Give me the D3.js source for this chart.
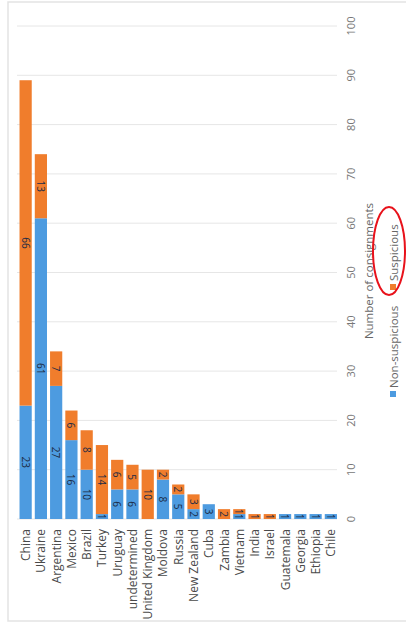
<!DOCTYPE html>
<html>
<head>
<meta charset="utf-8">
<script src="https://cdn.jsdelivr.net/npm/d3@7"></script>
<style>
  body { margin: 0; background: #fff; }
  svg { display: block; font-family: "Open Sans", sans-serif; }
</style>
</head>
<body>
<svg id="chart" width="406" height="625"></svg>
<script>
// chart data
const countries = ["China", "Ukraine", "Argentina", "Mexico", "Brazil", "Turkey", "Uruguay",
    "undetermined", "United Kingdom", "Moldova", "Russia", "New Zealand", "Cuba", "Zambia",
    "Vietnam", "India", "Israel", "Guatemala", "Georgia", "Ethiopia", "Chile"];
const nonSuspicious = [23, 61, 27, 16, 10, 1, 6, 6, 0, 8, 5, 2, 3, 0, 1, 0, 0, 1, 1, 1, 1];
const suspicious = [66, 13, 7, 6, 8, 14, 6, 5, 10, 2, 2, 3, 0, 2, 1, 1, 1, 0, 0, 0, 0];
const seriesNames = ["Non-suspicious", "Suspicious"];
const valueTicks = [0, 10, 20, 30, 40, 50, 60, 70, 80, 90, 100];

const colors = { "Non-suspicious": "#4d9be0", "Suspicious": "#f07d2c" };

const svg = d3.select("#chart");

// light card frame
svg.append("rect")
    .attr("x", 8).attr("y", 2)
    .attr("width", 420).attr("height", 619)
    .attr("fill", "none")
    .attr("stroke", "#e3e3e3")
    .attr("stroke-width", 1.5);

// the chart is drawn turned a quarter turn: categories run along x, values along y
const x = d3.scaleBand()
    .domain(countries)
    .range([18, 338.5])
    .paddingInner(0.2)
    .paddingOuter(0.1);

const y = d3.scaleLinear()
    .domain([0, 100])
    .range([519, 26]);

// gridlines
svg.append("g")
    .selectAll("line")
    .data(valueTicks)
    .join("line")
    .attr("x1", 17).attr("x2", 337)
    .attr("y1", d => y(d)).attr("y2", d => y(d))
    .attr("stroke", "#e6e6e6")
    .attr("stroke-width", 1);

// value tick labels
svg.append("g")
    .selectAll("text")
    .data(valueTicks)
    .join("text")
    .attr("transform", d => `translate(350,${y(d)}) rotate(-90)`)
    .attr("text-anchor", "middle")
    .attr("dominant-baseline", "central")
    .attr("font-size", 11)
    .attr("fill", "#777")
    .text(d => d);

// stacked bars
const rows = countries.map((c, i) => ({ country: c, "Non-suspicious": nonSuspicious[i], "Suspicious": suspicious[i] }));
const stacked = d3.stack().keys(seriesNames)(rows);

const layers = svg.append("g")
    .selectAll("g")
    .data(stacked)
    .join("g")
    .attr("fill", d => colors[d.key]);

layers.selectAll("rect")
    .data(d => d.filter(s => s[1] > s[0]))
    .join("rect")
    .attr("x", d => x(d.data.country))
    .attr("width", x.bandwidth())
    .attr("y", d => y(d[1]))
    .attr("height", d => y(d[0]) - y(d[1]));

// value labels inside segments
layers.selectAll("text")
    .data(d => d.filter(s => s[1] > s[0]))
    .join("text")
    .attr("transform", d => `translate(${x(d.data.country) + x.bandwidth() / 2},${(y(d[0]) + y(d[1])) / 2}) rotate(90)`)
    .attr("text-anchor", "middle")
    .attr("dominant-baseline", "central")
    .attr("font-size", 10)
    .attr("fill", "#1c2b45")
    .text(d => d[1] - d[0]);

// country labels
svg.append("g")
    .selectAll("text")
    .data(countries)
    .join("text")
    .attr("transform", d => `translate(${x(d) + x.bandwidth() / 2},529) rotate(-90)`)
    .attr("text-anchor", "end")
    .attr("dominant-baseline", "central")
    .attr("font-size", 12)
    .attr("fill", "#4a4a4a")
    .text(d => d);

// value axis title
svg.append("text")
    .attr("transform", "translate(368,271) rotate(-90)")
    .attr("text-anchor", "middle")
    .attr("dominant-baseline", "central")
    .attr("font-size", 11.5)
    .attr("fill", "#666")
    .text("Number of consignments");

// legend
const legendY = [394, 287];
const legend = svg.append("g")
    .selectAll("g")
    .data(seriesNames)
    .join("g")
    .attr("transform", (d, i) => `translate(393,${legendY[i]}) rotate(-90)`);

legend.append("rect")
    .attr("x", -3).attr("y", -3)
    .attr("width", 6).attr("height", 6)
    .attr("fill", d => colors[d]);

legend.append("text")
    .attr("x", 6)
    .attr("dominant-baseline", "central")
    .attr("font-size", 11.5)
    .attr("fill", "#666")
    .text(d => d);

// red hand-drawn highlight around "Suspicious"
svg.append("ellipse")
    .attr("cx", 389).attr("cy", 251)
    .attr("rx", 16).attr("ry", 44)
    .attr("fill", "none")
    .attr("stroke", "#e8121b")
    .attr("stroke-width", 2);
</script>
</body>
</html>
